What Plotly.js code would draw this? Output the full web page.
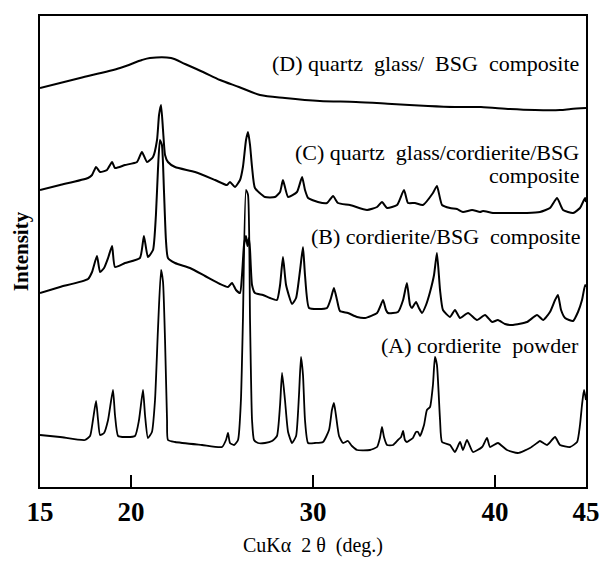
<!DOCTYPE html>
<html>
<head>
<meta charset="utf-8">
<script src="https://cdn.plot.ly/plotly-3.0.1.min.js"></script>
<style>
  html, body { margin: 0; padding: 0; background: #ffffff; }
  #chart { width: 602px; height: 561px; }
</style>
</head>
<body>
<div id="chart"></div>
<script>
// XRD patterns (CuKα), stacked with vertical offsets, intensity in arbitrary units.

// (A) cordierite powder
const twoThetaA = [15.00,16.10,17.47,17.75,17.91,18.08,18.19,18.30,18.52,18.74,19.01,19.12,19.29,19.67,20.22,20.44,20.66,20.77,20.93,21.15,21.32,21.48,21.65,21.76,21.87,21.98,22.03,22.42,23.90,25.00,25.22,25.33,25.44,25.66,25.88,26.04,26.15,26.32,26.43,26.54,26.65,26.76,26.98,27.36,27.75,28.02,28.19,28.30,28.46,28.63,28.85,29.07,29.23,29.34,29.45,29.56,29.73,30.11,30.55,30.88,31.04,31.15,31.26,31.43,31.65,31.92,32.14,32.42,33.13,33.52,33.68,33.79,33.90,34.07,34.40,34.67,34.84,34.95,35.05,35.16,35.33,35.49,35.66,35.77,35.88,36.10,36.26,36.43,36.59,36.70,36.81,36.98,37.09,37.53,37.80,38.08,38.24,38.46,38.79,39.29,39.56,39.73,40.16,40.66,41.26,41.92,42.31,42.47,42.86,43.30,43.57,44.12,44.51,44.67,44.78,44.89,45.00];
const intensityA = [52,50,47,51,67,86,67,52,54,67,97,72,51,50,51,67,97,72,49,55,87,157,217,205,147,67,47,45,42,40,47,54,44,42,47,87,167,297,292,167,67,47,44,44,46,51,82,114,87,55,44,51,92,130,112,67,44,44,45,57,77,84,72,51,44,46,41,37,37,40,49,60,50,42,42,47,50,56,47,45,47,49,55,55,51,62,77,80,102,130,122,67,45,42,35,45,37,47,35,40,49,40,44,37,34,39,44,46,42,50,42,40,45,62,82,97,87];

// (B) cordierite/BSG composite
const twoThetaB = [15.00,16.10,17.64,17.86,18.13,18.30,18.52,18.74,18.96,19.12,19.67,20.49,20.71,20.93,21.21,21.37,21.48,21.59,21.70,21.81,21.92,22.03,22.42,23.24,24.07,24.89,25.33,25.55,25.77,25.99,26.10,26.21,26.32,26.40,26.48,26.54,26.65,26.81,27.25,27.64,28.02,28.19,28.35,28.52,28.85,29.07,29.29,29.45,29.56,29.78,30.27,30.77,30.99,31.15,31.32,31.48,31.92,32.42,32.86,33.52,33.68,33.85,34.01,34.12,34.67,34.95,35.16,35.33,35.44,35.66,35.82,35.99,36.21,36.43,36.65,36.81,36.98,37.14,37.53,37.80,38.08,38.52,39.01,39.45,39.84,40.16,40.55,40.99,41.76,42.31,42.64,43.02,43.30,43.46,43.63,43.85,44.29,44.56,44.78,44.95,45.00];
const intensityB = [194,200,208,215,231,215,219,229,241,220,224,229,251,230,237,272,317,347,342,297,247,229,224,219,211,203,200,204,197,194,212,242,251,241,249,237,202,194,192,189,187,202,230,202,183,189,217,240,212,179,178,179,189,199,187,176,174,170,169,174,180,187,177,174,175,187,204,182,179,185,179,174,182,195,212,234,197,177,170,177,169,174,167,172,165,167,163,162,165,172,167,175,187,192,177,169,166,175,187,202,200];

// (C) quartz glass/cordierite/BSG composite
const twoThetaC = [15.00,16.10,17.64,17.86,18.08,18.30,18.68,18.96,19.12,19.67,20.33,20.60,20.88,21.21,21.43,21.54,21.65,21.76,21.87,22.03,22.42,23.52,24.62,25.27,25.44,25.71,25.99,26.15,26.32,26.43,26.54,26.65,26.81,27.36,27.91,28.19,28.35,28.63,29.12,29.40,29.56,29.73,30.27,30.77,31.10,31.37,32.03,32.97,33.52,33.79,34.07,34.62,35.00,35.22,35.60,36.04,36.59,36.81,37.09,37.53,37.91,38.24,38.74,39.18,39.34,39.89,40.66,41.76,42.47,43.02,43.41,43.74,44.29,44.67,44.95,45.00];
const intensityC = [297,302,309,312,320,315,317,325,319,322,325,335,325,330,347,372,382,357,332,325,320,315,307,302,305,300,307,320,347,355,342,320,299,290,290,295,307,290,295,310,297,289,285,284,291,284,282,277,280,285,279,282,297,284,284,282,294,301,282,279,278,275,277,275,276,274,274,274,275,279,289,277,274,279,289,285];

// (D) quartz glass/ BSG composite
const twoThetaD = [15.00,17.20,19.40,20.60,21.04,22.20,22.97,23.96,24.89,25.93,27.09,28.46,30.38,32.36,34.34,36.32,37.80,39.23,40.82,42.20,43.57,44.17,45.00];
const intensityD = [399,409,419,427,429,429,423,415,407,400,392,389,386,385,383,381,380,380,378,377,377,378,379];

// Pattern labels: text, 2θ of the right edge, vertical level
const labelTexts = ['(D) quartz  glass/  BSG  composite', '(C) quartz  glass/cordierite/BSG', 'composite', '(B) cordierite/BSG  composite', '(A) cordierite  powder'];
const labelX = [44.7, 44.7, 44.7, 44.8, 44.75];
const labelY = [424, 335, 312, 251, 142];

// Axis ticks
const tickValues = [15, 20, 30, 40, 45];
const tickLabels = ['15', '20', '30', '40', '45'];

const lineStyle = { color: '#000000', width: 2, shape: 'spline', smoothing: 0.5 };
const traces = [
  { x: twoThetaA, y: intensityA, name: 'A', line: Object.assign({}, lineStyle, { width: 1.8 }) },
  { x: twoThetaB, y: intensityB, name: 'B', line: lineStyle },
  { x: twoThetaC, y: intensityC, name: 'C', line: lineStyle },
  { x: twoThetaD, y: intensityD, name: 'D', line: Object.assign({}, lineStyle, { smoothing: 0.8 }) }
].map(t => Object.assign({ type: 'scatter', mode: 'lines', hoverinfo: 'skip' }, t));

const serif = 'Liberation Serif, Times New Roman, serif';

const annotations = labelTexts.map((txt, i) => ({
  text: txt,
  x: labelX[i], y: labelY[i], xref: 'x', yref: 'y',
  xanchor: 'right', yanchor: 'middle',
  showarrow: false,
  font: { family: serif, size: 22, color: '#000000' }
}));

const layout = {
  width: 602, height: 561,
  margin: { l: 40, r: 16, t: 16, b: 74, pad: 0 },
  paper_bgcolor: '#ffffff', plot_bgcolor: '#ffffff',
  showlegend: false,
  xaxis: {
    range: [15, 45],
    tickvals: tickValues, ticktext: tickLabels,
    ticks: 'inside', ticklen: 12, tickwidth: 2, tickcolor: '#000000',
    showline: true, linecolor: '#000000', linewidth: 2, mirror: true,
    showgrid: false, zeroline: false,
    tickfont: { family: serif, size: 27, color: '#000000', weight: 'bold' },
    title: { text: 'CuKα  2 θ  (deg.)', font: { family: serif, size: 20, color: '#000000' }, standoff: 12 }
  },
  yaxis: {
    range: [0, 471],
    showticklabels: false, ticks: '',
    showline: true, linecolor: '#000000', linewidth: 2, mirror: true,
    showgrid: false, zeroline: false,
    title: { text: 'Intensity', font: { family: serif, size: 21, color: '#000000', weight: 'bold' }, standoff: 4 }
  },
  annotations: annotations
};

Plotly.newPlot('chart', traces, layout, { staticPlot: true, displayModeBar: false });
</script>
</body>
</html>
